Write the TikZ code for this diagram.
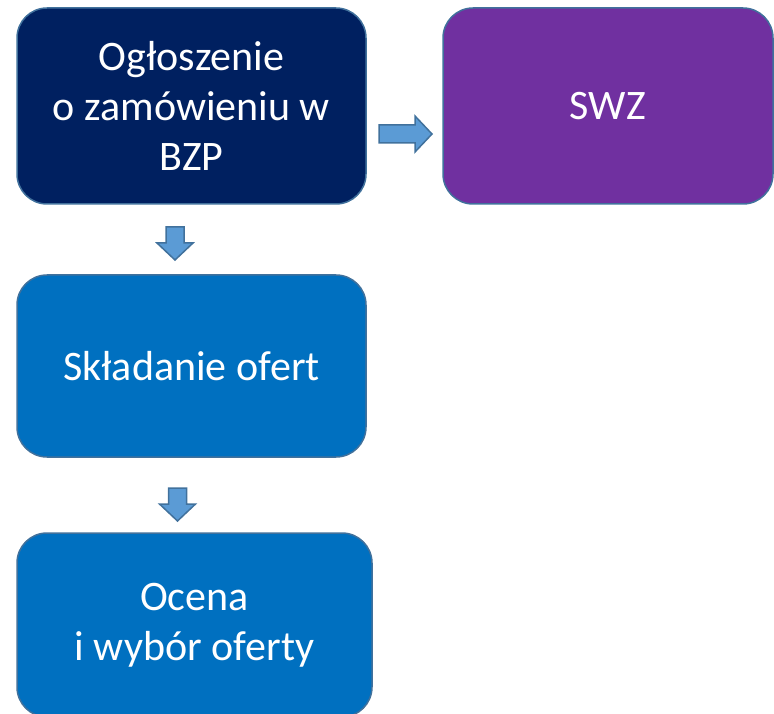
\documentclass[tikz,border=0pt]{standalone}
\usepackage{fontspec}
\setmainfont{Carlito}
\usetikzlibrary{positioning}
\definecolor{granat}{HTML}{002060}
\definecolor{fiolet}{HTML}{7030A0}
\definecolor{niebieski}{HTML}{0070C0}
\definecolor{strzalka}{HTML}{5B9BD5}
\definecolor{obwod}{HTML}{41719C}
\begin{document}
\begin{tikzpicture}[x=1pt,y=-1pt]
	\tikzstyle{box}=[draw=obwod,line width=1.5pt,rounded corners=30pt,
		text=white,align=center,inner sep=0pt,
		font=\fontsize{42}{50}\selectfont];
	\tikzset{pics/blockarrow/.style={code={
		\draw[draw=obwod,fill=strzalka,line width=1.5pt]
		(0,-9) -- (#1,-9) -- (#1,-18) -- (#1+17,0) -- (#1,18) -- (#1,9) -- (0,9) -- cycle;}}}
	\useasboundingbox (0,0) rectangle (774,714);
	\path (191.5,106) node[box,fill=granat,minimum width=349pt,minimum height=196pt] (ogloszenie) {Ogłoszenie\\o zamówieniu w\\BZP};
	\path (608,106)   node[box,fill=fiolet,minimum width=330pt,minimum height=196pt] (swz) {SWZ};
	\path (191.5,366) node[box,fill=niebieski,minimum width=349pt,minimum height=182pt] (skladanie) {Składanie ofert};
	\path (194.5,625) node[box,fill=niebieski,minimum width=355pt,minimum height=184pt] (ocena) {Ocena\\i wybór oferty};
	\pic at (379,134) {blockarrow=36};
	\pic[rotate=-90] at (175,227) {blockarrow=16};
	\pic[rotate=-90] at (177.5,488) {blockarrow=16};
\end{tikzpicture}
\end{document}
